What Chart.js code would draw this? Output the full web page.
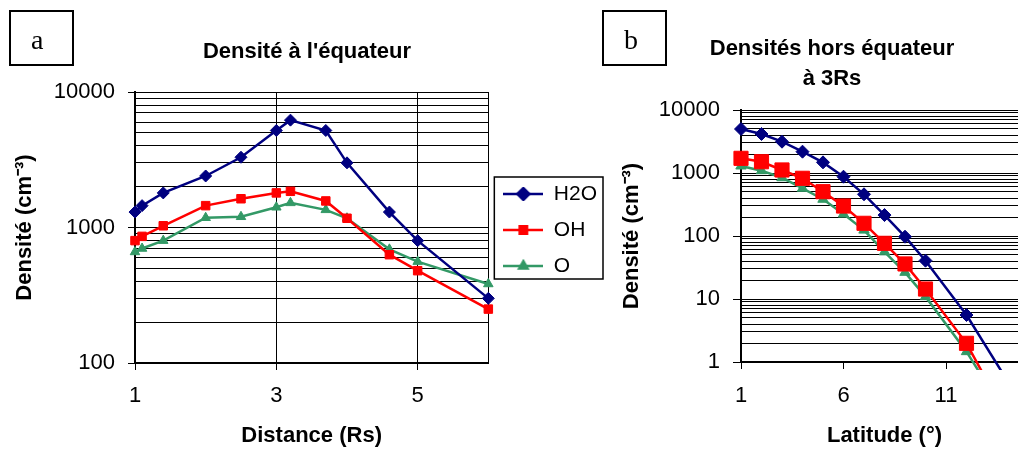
<!DOCTYPE html>
<html>
<head>
<meta charset="utf-8">
<script src="https://cdn.jsdelivr.net/npm/chart.js@4.4.1/dist/chart.umd.min.js"></script>
<style>
  html, body { margin: 0; padding: 0; background: #fff; overflow: hidden; }
  #page { position: relative; width: 1018px; height: 451px; overflow: hidden; }
  #chartA { position: absolute; left: 0; top: 0; }
  #chartB { position: absolute; left: 600px; top: 0; }
  .tag {
    position: absolute; top: 10px; width: 65px; height: 56px; box-sizing: border-box;
    border: 2px solid #000; padding: 4px 0 0 20px; line-height: 48px;
    font-family: 'Liberation Serif', 'Times New Roman', serif; font-size: 28px; color: #000;
  }
</style>
</head>
<body>
<div id="page">
  <canvas id="chartA" width="607" height="451"></canvas>
  <canvas id="chartB" width="440" height="451"></canvas>
  <div class="tag" style="left:9px">a</div>
  <div class="tag" style="left:602px">b</div>
</div>
<script>
// (a) densité à l'équateur
const distance = [1, 1.1, 1.4, 2, 2.5, 3, 3.2, 3.7, 4, 4.6, 5, 6];
const h2oEq = [1300, 1450, 1800, 2400, 3300, 5200, 6200, 5200, 3000, 1300, 800, 300];
const ohEq  = [800, 860, 1030, 1450, 1630, 1800, 1850, 1570, 1170, 630, 480, 250];
const oEq   = [660, 700, 800, 1180, 1200, 1410, 1520, 1350, 1170, 690, 560, 383];
const distTicks = [1, 3, 5];
const distMax = 6;
const decadesA = [100, 1000, 10000];

// (b) densités hors équateur à 3Rs (les derniers points sortent sous l'axe)
const latH2O = [1, 2, 3, 4, 5, 6, 7, 8, 9, 10, 12, 14];
const h2oLat = [4990, 4160, 3140, 2180, 1475, 873, 459, 215, 97.5, 40.6, 5.57, 0.5];
const latOH  = [1, 2, 3, 4, 5, 6, 7, 8, 9, 10, 12, 13];
const ohLat  = [1710, 1510, 1117, 824, 505, 299, 159, 76.5, 36, 14.4, 1.98, 0.5];
const latO   = [1, 2, 3, 4, 5, 6, 7, 8, 9, 10, 12, 13];
const oLat   = [1292, 1089, 841, 571, 383, 223, 124, 56, 26.5, 10.9, 1.46, 0.44];
const latTicks = [1, 6, 11];
const latMax = 15;
const decadesB = [1, 10, 100, 1000, 10000];

const BLUE = '#000080', RED = '#ff0000', GREEN = '#339966';
const NONE = 'rgba(0,0,0,0)';

Chart.defaults.font.family = "'Liberation Sans', Arial, sans-serif";
Chart.defaults.color = '#000';
Chart.defaults.animation = false;

const toPoints = (xs, ys) => xs.map((x, i) => ({ x, y: ys[i] }));

// toutes les valeurs 1..9 de chaque décade, pour la grille
function logGrid(decades) {
  const vals = [];
  for (let i = 0; i < decades.length - 1; i++) {
    for (let m = 1; m <= 9; m++) vals.push(decades[i] * m);
  }
  vals.push(decades[decades.length - 1]);
  return vals;
}

function densityAxis(decades, width, titlePad, tickLen) {
  const grid = logGrid(decades);
  return {
    type: 'logarithmic',
    min: decades[0],
    max: decades[decades.length - 1],
    afterBuildTicks: s => { s.ticks = grid.map(v => ({ value: v })); },
    afterFit: s => { s.width = width; },
    ticks: {
      autoSkip: false, padding: 13, font: { size: 22 },
      callback: v => decades.includes(v) ? String(v) : ''
    },
    grid: {
      color: '#000', lineWidth: 1, tickLength: tickLen,
      tickColor: c => decades.includes(c.tick.value) ? '#000' : NONE
    },
    border: { color: '#000', width: 2 },
    title: {
      display: true, text: 'Densité (cm⁻³)',
      font: { size: 22, weight: 'bold' }, padding: { top: titlePad, bottom: 0 }
    }
  };
}

// petit trait + marqueur pour la légende
function swatch(color, style, radius) {
  const c = document.createElement('canvas');
  c.width = 40; c.height = 14;
  const g = c.getContext('2d');
  g.strokeStyle = color; g.fillStyle = color; g.lineWidth = 2.5;
  g.beginPath(); g.moveTo(0, 7); g.lineTo(40, 7); g.stroke();
  Chart.helpers.drawPoint(g, { pointStyle: style, radius, rotation: 0, borderWidth: 1 }, 20, 7);
  return c;
}
const swatches = [swatch(BLUE, 'rectRot', 6), swatch(RED, 'rect', 5.2), swatch(GREEN, 'triangle', 4.8)];

const legendFrame = {
  id: 'legendFrame',
  afterDraw(chart) {
    const boxes = chart.legend && chart.legend.legendHitBoxes;
    if (!boxes || !boxes.length) return;
    const last = boxes[boxes.length - 1];
    const x0 = boxes[0].left - 9;
    const y0 = boxes[0].top - 6.5;
    const x1 = Math.max(...boxes.map(b => b.left + b.width)) + 6;
    const y1 = last.top + last.height + 2.5;
    const ctx = chart.ctx;
    ctx.save();
    ctx.strokeStyle = '#000';
    ctx.lineWidth = 1.5;
    ctx.strokeRect(x0, y0, x1 - x0, y1 - y0);
    ctx.restore();
  }
};

new Chart(document.getElementById('chartA'), {
  type: 'line',
  data: {
    datasets: [
      { label: 'H2O', data: toPoints(distance, h2oEq), borderColor: BLUE, backgroundColor: BLUE,
        pointStyle: 'rectRot', pointRadius: 6 },
      { label: 'OH', data: toPoints(distance, ohEq), borderColor: RED, backgroundColor: RED,
        pointStyle: 'rect', pointRadius: 6 },
      { label: 'O', data: toPoints(distance, oEq), borderColor: GREEN, backgroundColor: GREEN,
        pointStyle: 'triangle', pointRadius: 5.5 }
    ].map(d => Object.assign(d, { borderWidth: 2.5, pointBorderWidth: 1, tension: 0, clip: false }))
  },
  options: {
    responsive: false,
    layout: { padding: { left: 7, right: 0, top: 9, bottom: 0 } },
    plugins: {
      title: {
        display: true, text: "Densité à l'équateur",
        font: { size: 22, weight: 'bold' }, padding: { top: 29.6, bottom: 27 }
      },
      legend: {
        position: 'right',
        labels: {
          usePointStyle: true, pointStyleWidth: 40, padding: 15, font: { size: 21 },
          generateLabels: chart => chart.data.datasets.map((d, i) => ({
            text: d.label, pointStyle: swatches[i], fillStyle: d.borderColor,
            strokeStyle: d.borderColor, lineWidth: 0, hidden: false, datasetIndex: i, fontColor: '#000'
          }))
        }
      },
      tooltip: { enabled: false }
    },
    scales: {
      x: {
        type: 'linear', min: 1, max: distMax,
        afterBuildTicks: s => { s.ticks = distTicks.concat([distMax]).map(v => ({ value: v })); },
        afterFit: s => { s.height = 88; },
        ticks: {
          autoSkip: false, maxRotation: 0, padding: 12.3, font: { size: 22 },
          callback: v => distTicks.includes(v) ? String(v) : ''
        },
        grid: {
          color: '#000', lineWidth: 1, tickLength: 7,
          tickColor: c => distTicks.includes(c.tick.value) ? '#000' : NONE
        },
        border: { color: '#000', width: 2 },
        title: {
          display: true, text: 'Distance (Rs)',
          font: { size: 22, weight: 'bold' }, padding: { top: 0, bottom: 2.3 }
        }
      },
      y: densityAxis(decadesA, 128, 4.8, 7)
    }
  },
  plugins: [legendFrame]
});

const hideBelowAxis = c => (c.raw && c.raw.y < 1 ? 0 : null);

new Chart(document.getElementById('chartB'), {
  type: 'line',
  data: {
    datasets: [
      { label: 'H2O', data: toPoints(latH2O, h2oLat), borderColor: BLUE, backgroundColor: BLUE,
        pointStyle: 'rectRot', pointRadius: c => hideBelowAxis(c) ?? 6.5 },
      { label: 'OH', data: toPoints(latOH, ohLat), borderColor: RED, backgroundColor: RED,
        pointStyle: 'rect', pointRadius: c => hideBelowAxis(c) ?? 10 },
      { label: 'O', data: toPoints(latO, oLat), borderColor: GREEN, backgroundColor: GREEN,
        pointStyle: 'triangle', pointRadius: c => hideBelowAxis(c) ?? 6 }
    ].map(d => Object.assign(d, {
      borderWidth: 2.5, pointBorderWidth: 1, tension: 0,
      clip: { left: false, top: false, right: false, bottom: 8 }
    }))
  },
  options: {
    responsive: false,
    layout: { padding: { left: 36, right: 12, top: 0, bottom: 0 } },
    plugins: {
      title: {
        display: true, text: ['Densités hors équateur', 'à 3Rs'],
        font: { size: 22, weight: 'bold', lineHeight: '30px' }, padding: { top: 34, bottom: 16 }
      },
      legend: { display: false },
      tooltip: { enabled: false }
    },
    scales: {
      x: {
        type: 'linear', min: 1, max: latMax,
        afterBuildTicks: s => { s.ticks = latTicks.map(v => ({ value: v })); },
        afterFit: s => { s.height = 89; },
        ticks: { autoSkip: false, maxRotation: 0, padding: 13.3, font: { size: 22 } },
        grid: { drawOnChartArea: false, color: '#000', lineWidth: 1, tickLength: 7 },
        border: { color: '#000', width: 2 },
        title: {
          display: true, text: 'Latitude (°)',
          font: { size: 22, weight: 'bold' }, padding: { top: 0, bottom: 2.3 }
        }
      },
      y: densityAxis(decadesB, 105, -17.2, 8)
    }
  }
});
</script>
</body>
</html>
